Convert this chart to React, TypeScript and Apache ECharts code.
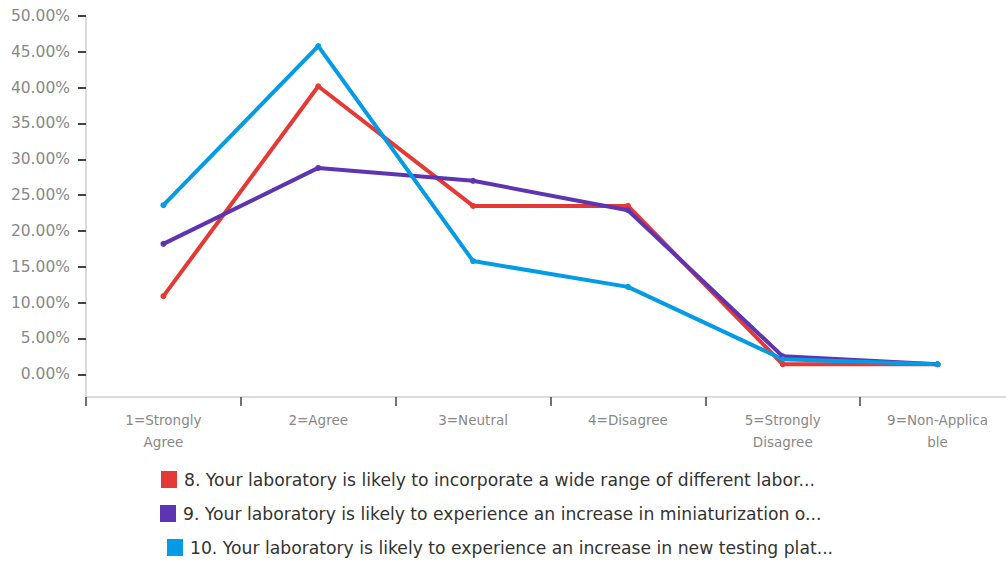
import React, { useEffect, useRef } from "react";
import * as echarts from "echarts";

const categories = [
  "1=Strongly Agree",
  "2=Agree",
  "3=Neutral",
  "4=Disagree",
  "5=Strongly Disagree",
  "9=Non-Applicable",
];
const tickLabels = [
  "1=Strongly\nAgree",
  "2=Agree",
  "3=Neutral",
  "4=Disagree",
  "5=Strongly\nDisagree",
  "9=Non-Applica\nble",
];
const yTicks = [0, 5, 10, 15, 20, 25, 30, 35, 40, 45, 50];

const seriesNames = [
  "8. Your laboratory is likely to incorporate a wide range of different labor...",
  "9. Your laboratory is likely to experience an increase in miniaturization o...",
  "10. Your laboratory is likely to experience an increase in new testing plat...",
];
const q8 = [10.9, 40.2, 23.5, 23.5, 1.4, 1.4];
const q9 = [18.2, 28.8, 27.0, 22.9, 2.5, 1.4];
const q10 = [23.6, 45.8, 15.8, 12.2, 2.1, 1.4];
const colors = ["#E53935", "#5E35B1", "#039BE5"];

const FONT = "DejaVu Sans";

export default function App() {
  const ref = useRef<HTMLDivElement>(null);
  useEffect(() => {
    if (!ref.current) return;
    const chart = echarts.init(ref.current, null, { renderer: "svg" });
    const values = [q8, q9, q10];
    const legendLeft = [161, 160, 167];
    const legendTop = [471, 505, 539];
    chart.setOption({
      animation: false,
      textStyle: { fontFamily: FONT },
      grid: {
        left: 86,
        top: 16,
        bottom: 164,
        width: 929,
        containLabel: false,
        outerBoundsMode: "none",
      },
      legend: seriesNames.map((n, i) => ({
        data: [n],
        left: legendLeft[i],
        top: legendTop[i],
        padding: 0,
        itemWidth: 16,
        itemHeight: 17,
        itemGap: 7,
        icon: "rect",
        textStyle: { fontSize: 17.2, color: "#333", fontFamily: FONT, padding: [0, 0, 0, 2] },
      })),
      xAxis: {
        type: "category",
        data: categories,
        boundaryGap: true,
        axisLine: { onZero: false, lineStyle: { color: "#d0d0d0", width: 1.5 } },
        axisTick: { show: true, length: 9, lineStyle: { color: "#444", width: 1.5 } },
        axisLabel: {
          color: "#888",
          fontSize: 13.5,
          lineHeight: 22,
          margin: 12,
          interval: 0,
          formatter: (_v: string, idx: number) => tickLabels[idx],
        },
      },
      yAxis: {
        type: "value",
        min: -3.17,
        max: 50,
        splitLine: { show: false },
        axisLine: { show: true, lineStyle: { color: "#d0d0d0", width: 1.5 } },
        axisTick: {
          show: true,
          length: 8,
          inside: false,
          customValues: yTicks,
          lineStyle: { color: "#444", width: 2 },
        },
        axisLabel: {
          color: "#888",
          fontSize: 15.5,
          margin: 16,
          customValues: yTicks,
          formatter: (v: number) => v.toFixed(2) + "%",
        },
      },
      series: seriesNames.map((n, i) => ({
        name: n,
        type: "line",
        data: values[i],
        symbol: "circle",
        symbolSize: 6,
        itemStyle: { color: colors[i] },
        lineStyle: { color: colors[i], width: 4 },
      })),
    });
    return () => chart.dispose();
  }, []);
  return (
    <div
      ref={ref}
      style={{ position: "absolute", left: 0, top: 0, width: 1006, height: 561 }}
    />
  );
}
